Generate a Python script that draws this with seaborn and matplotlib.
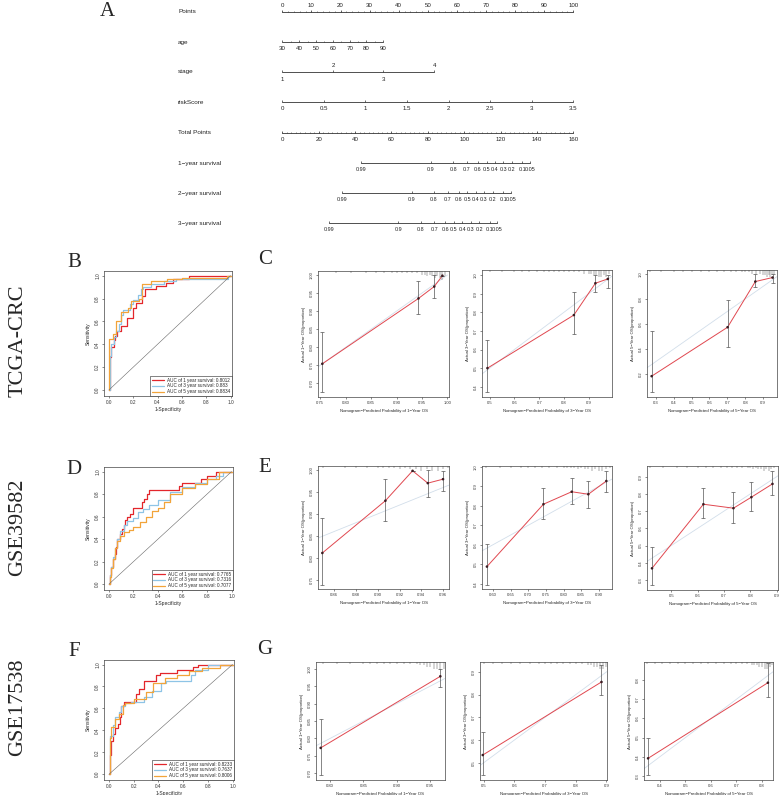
import numpy as np
import pandas as pd
import matplotlib
matplotlib.use('Agg')
import matplotlib.pyplot as plt
import seaborn as sns

sns.set_theme(style='ticks')
plt.rcParams['font.family'] = ['Liberation Sans', 'DejaVu Sans']
SERIF = ['Liberation Serif', 'DejaVu Serif']

W, H = 782, 795

# ---------------- nomogram (A) ----------------
nomo_labels = ['Points', 'age', 'stage', 'riskScore', 'Total Points',
               '1\u2212year survival', '2\u2212year survival', '3\u2212year survival']
points_ticks = list(range(0, 101, 10))
age_ticks = [30, 40, 50, 60, 70, 80, 90]
age_pts_range = (0.0, 34.7)          # points for age 30 and 90
stage_levels = ['1', '2', '3', '4']
stage_points = [0.0, 17.4, 34.7, 52.2]
risk_ticks = [0, 0.5, 1, 1.5, 2, 2.5, 3, 3.5]
total_ticks = list(range(0, 161, 20))
surv_labels = ['0.99', '0.9', '0.8', '0.7', '0.6', '0.5', '0.4', '0.3', '0.2', '0.1', '0.05']
surv1_total = [43.4, 81.7, 93.9, 101.5, 107.4, 112.3, 116.9, 121.4, 126.1, 131.9, 136.2]
surv2_total = [33.0, 71.2, 83.4, 91.0, 96.9, 101.8, 106.4, 110.8, 115.6, 121.4, 125.6]
surv3_total = [25.5, 63.8, 76.0, 83.6, 89.5, 94.4, 99.0, 103.5, 108.2, 114.0, 118.3]

# ---------------- ROC curves (B, D, F) ----------------
tcga_1y_fpr = [0.0, 0.01, 0.02, 0.04, 0.05, 0.07, 0.10, 0.14, 0.15, 0.20, 0.22, 0.27, 0.30, 0.39, 0.47, 0.53, 0.66, 1.0]
tcga_1y_tpr = [0.0, 0.0, 0.29, 0.38, 0.44, 0.47, 0.52, 0.56, 0.56, 0.63, 0.72, 0.76, 0.82, 0.88, 0.91, 0.94, 0.97, 1.0]
tcga_3y_fpr = [0.0, 0.01, 0.02, 0.04, 0.06, 0.08, 0.10, 0.12, 0.17, 0.20, 0.24, 0.26, 0.28, 0.35, 0.45, 0.55, 0.98, 1.0]
tcga_3y_tpr = [0.0, 0.0, 0.30, 0.40, 0.46, 0.52, 0.58, 0.66, 0.70, 0.75, 0.79, 0.83, 0.88, 0.90, 0.93, 0.95, 0.97, 1.0]
tcga_5y_fpr = [0.0, 0.005, 0.03, 0.06, 0.10, 0.16, 0.18, 0.25, 0.27, 0.35, 0.48, 0.60, 0.97, 1.0]
tcga_5y_tpr = [0.0, 0.0, 0.45, 0.49, 0.60, 0.68, 0.72, 0.78, 0.80, 0.93, 0.95, 0.97, 0.98, 1.0]
tcga_auc = ['0.8012', '0.883', '0.8834']

gse39_1y_fpr = [0, 0.005, 0.015, 0.03, 0.05, 0.06, 0.07, 0.09, 0.11, 0.12, 0.13, 0.15, 0.17, 0.20, 0.27, 0.29, 0.31, 0.33, 0.57, 0.60, 0.75, 0.80, 0.87, 1.0]
gse39_1y_tpr = [0, 0, 0.08, 0.15, 0.22, 0.27, 0.33, 0.40, 0.45, 0.49, 0.53, 0.57, 0.60, 0.62, 0.68, 0.73, 0.76, 0.80, 0.84, 0.87, 0.90, 0.93, 0.96, 1.0]
gse39_3y_fpr = [0, 0.005, 0.015, 0.03, 0.05, 0.07, 0.09, 0.12, 0.15, 0.20, 0.24, 0.28, 0.33, 0.40, 0.50, 0.60, 0.70, 0.80, 0.87, 0.93, 1.0]
gse39_3y_tpr = [0, 0, 0.08, 0.15, 0.24, 0.32, 0.40, 0.47, 0.53, 0.56, 0.59, 0.64, 0.67, 0.70, 0.75, 0.82, 0.86, 0.90, 0.93, 0.96, 1.0]
gse39_5y_fpr = [0, 0.005, 0.015, 0.03, 0.05, 0.07, 0.09, 0.12, 0.16, 0.20, 0.25, 0.30, 0.35, 0.40, 0.45, 0.50, 0.60, 0.70, 0.80, 0.90, 1.0]
gse39_5y_tpr = [0, 0, 0.06, 0.14, 0.22, 0.32, 0.38, 0.43, 0.46, 0.48, 0.51, 0.55, 0.60, 0.65, 0.68, 0.73, 0.80, 0.85, 0.89, 0.93, 1.0]
gse39_auc = ['0.7765', '0.7316', '0.7077']

gse17_1y_fpr = [0, 0.005, 0.01, 0.02, 0.03, 0.05, 0.07, 0.09, 0.10, 0.12, 0.16, 0.22, 0.24, 0.28, 0.30, 0.38, 0.41, 0.55, 0.68, 0.72, 1.0]
gse17_1y_tpr = [0, 0, 0.10, 0.18, 0.30, 0.37, 0.42, 0.46, 0.52, 0.62, 0.66, 0.66, 0.73, 0.78, 0.85, 0.85, 0.90, 0.92, 0.95, 0.98, 1.0]
gse17_3y_fpr = [0, 0.005, 0.01, 0.03, 0.05, 0.08, 0.10, 0.13, 0.18, 0.28, 0.35, 0.42, 0.46, 0.60, 0.66, 0.70, 0.80, 1.0]
gse17_3y_tpr = [0, 0, 0.20, 0.35, 0.45, 0.52, 0.57, 0.62, 0.65, 0.66, 0.70, 0.76, 0.83, 0.85, 0.85, 0.90, 0.95, 1.0]
gse17_5y_fpr = [0, 0.005, 0.01, 0.02, 0.05, 0.08, 0.11, 0.13, 0.20, 0.30, 0.36, 0.45, 0.55, 0.65, 0.75, 0.90, 1.0]
gse17_5y_tpr = [0, 0, 0.18, 0.33, 0.43, 0.50, 0.55, 0.63, 0.65, 0.69, 0.75, 0.83, 0.88, 0.90, 0.94, 0.97, 1.0]
gse17_auc = ['0.8233', '0.7637', '0.8006']

roc_years = ['1', '3', '5']
roc_colors = ['#e3262b', '#8ec4e6', '#f2a43a']

# ---------------- calibration (C, E, G) ----------------
c1_pred = [0.754, 0.943, 0.974, 0.990]; c1_obs = [0.754, 0.935, 0.968, 0.998]
c1_lo = [0.675, 0.891, 0.935, 0.998];   c1_hi = [0.841, 0.984, 1.0, 0.998]
c2_pred = [0.491, 0.840, 0.927, 0.977]; c2_obs = [0.500, 0.785, 0.956, 0.979]
c2_lo = [0.373, 0.683, 0.907, 0.932];   c2_hi = [0.651, 0.907, 1.0, 1.0]
c3_pred = [0.277, 0.701, 0.856, 0.952]; c3_obs = [0.184, 0.574, 0.938, 0.970]
c3_lo = [0.058, 0.418, 0.898, 0.926];   c3_hi = [0.544, 0.792, 0.998, 1.0]

e1_pred = [0.849, 0.907, 0.932, 0.946, 0.960]; e1_obs = [0.811, 0.930, 0.998, 0.970, 0.979]
e1_lo = [0.737, 0.884, 0.998, 0.938, 0.953];   e1_hi = [0.890, 0.979, 0.998, 1.0, 0.998]
e2_pred = [0.583, 0.743, 0.823, 0.870, 0.921]; e2_obs = [0.488, 0.808, 0.872, 0.859, 0.927]
e2_lo = [0.391, 0.731, 0.808, 0.787, 0.872];   e2_hi = [0.603, 0.890, 0.941, 0.927, 0.978]
e3_pred = [0.427, 0.622, 0.736, 0.804, 0.884]; e3_obs = [0.368, 0.740, 0.717, 0.781, 0.858]
e3_lo = [0.271, 0.659, 0.630, 0.703, 0.794];   e3_hi = [0.490, 0.833, 0.813, 0.872, 0.934]

g1_pred = [0.786, 0.965]; g1_obs = [0.773, 0.978]; g1_lo = [0.695, 0.947]; g1_hi = [0.857, 1.0]
g2_pred = [0.497, 0.884]; g2_obs = [0.534, 0.856]; g2_lo = [0.446, 0.797]; g2_hi = [0.637, 0.930]
g3_pred = [0.354, 0.823]; g3_obs = [0.392, 0.786]; g3_lo = [0.305, 0.710]; g3_hi = [0.499, 0.890]

# rug of predicted risks along the top edge (position, count)
c1_rug = [0.78, 0.81, 0.84, 0.86, 0.875, 0.89, 0.90, 0.91, 0.92, 0.93, 0.94, 0.95, 0.955, 0.96, 0.965, 0.97, 0.975, 0.98, 0.985, 0.99, 0.995]
c1_cnt = [1, 1, 1, 1, 1, 1, 1, 1, 1, 1, 1, 2, 2, 3, 2, 3, 4, 3, 4, 5, 3]
c2_rug = [0.50, 0.55, 0.60, 0.63, 0.66, 0.69, 0.72, 0.74, 0.76, 0.78, 0.80, 0.82, 0.84, 0.86, 0.88, 0.90, 0.91, 0.92, 0.93, 0.94, 0.95, 0.96, 0.97, 0.98]
c2_cnt = [1, 1, 1, 1, 1, 1, 1, 1, 1, 1, 1, 1, 1, 1, 2, 2, 2, 3, 3, 4, 4, 3, 4, 2]
c3_rug = [0.27, 0.33, 0.40, 0.45, 0.50, 0.55, 0.60, 0.64, 0.68, 0.72, 0.75, 0.78, 0.80, 0.82, 0.84, 0.86, 0.88, 0.90, 0.91, 0.92, 0.93, 0.94, 0.95, 0.96]
c3_cnt = [1, 1, 1, 1, 1, 1, 1, 1, 1, 1, 1, 1, 1, 1, 2, 2, 2, 3, 3, 4, 3, 4, 3, 2]
e1_rug = [0.85, 0.87, 0.88, 0.89, 0.90, 0.905, 0.91, 0.915, 0.92, 0.925, 0.93, 0.935, 0.94, 0.945, 0.95, 0.955, 0.96, 0.965]
e1_cnt = [1, 1, 1, 1, 1, 1, 1, 1, 2, 1, 2, 2, 3, 2, 3, 3, 2, 1]
e2_rug = [0.58, 0.62, 0.65, 0.68, 0.70, 0.72, 0.74, 0.76, 0.78, 0.80, 0.81, 0.82, 0.83, 0.84, 0.85, 0.86, 0.87, 0.88, 0.89, 0.90, 0.91, 0.92, 0.93]
e2_cnt = [1, 1, 1, 1, 1, 1, 1, 1, 1, 1, 1, 1, 1, 2, 1, 2, 2, 3, 2, 3, 3, 2, 1]
e3_rug = [0.42, 0.47, 0.52, 0.56, 0.60, 0.63, 0.66, 0.69, 0.71, 0.73, 0.75, 0.77, 0.79, 0.80, 0.81, 0.82, 0.83, 0.84, 0.85, 0.86, 0.87, 0.88, 0.89]
e3_cnt = [1, 1, 1, 1, 1, 1, 1, 1, 1, 1, 1, 1, 1, 1, 2, 1, 2, 2, 3, 2, 3, 2, 1]
g1_rug = [0.79, 0.81, 0.83, 0.85, 0.86, 0.87, 0.88, 0.89, 0.90, 0.91, 0.92, 0.93, 0.935, 0.94, 0.945, 0.95, 0.955, 0.96, 0.965, 0.97]
g1_cnt = [1, 1, 1, 1, 1, 1, 1, 1, 1, 1, 1, 1, 2, 2, 3, 3, 4, 4, 5, 4]
g2_rug = [0.50, 0.53, 0.56, 0.59, 0.62, 0.65, 0.68, 0.70, 0.72, 0.74, 0.76, 0.78, 0.80, 0.82, 0.84, 0.85, 0.86, 0.87, 0.88, 0.89, 0.90]
g2_cnt = [1, 1, 1, 1, 1, 1, 1, 1, 1, 1, 1, 1, 1, 1, 2, 2, 3, 3, 4, 4, 3]
g3_rug = [0.35, 0.38, 0.41, 0.44, 0.47, 0.50, 0.53, 0.56, 0.59, 0.62, 0.65, 0.68, 0.70, 0.72, 0.74, 0.76, 0.77, 0.78, 0.79, 0.80, 0.81, 0.82, 0.83, 0.84]
g3_cnt = [1, 1, 1, 1, 1, 1, 1, 1, 1, 1, 1, 1, 1, 1, 1, 2, 2, 2, 3, 3, 4, 4, 3, 2]


def px_axes(fig, l, t, r, b):
    return fig.add_axes([l / W, 1 - b / H, (r - l) / W, (b - t) / H])


fig = plt.figure(figsize=(W / 100, H / 100), dpi=100)
fig.patch.set_facecolor('white')

# ----- A: nomogram -----
ax = px_axes(fig, 170, 0, 600, 235)
ax.set_xlim(-(282.3 - 170) / 2.91, 100 + (600 - 573.3) / 2.91)
ax.set_ylim(235, 0)
ax.axis('off')
row_y = [11.7, 42.3, 71.7, 102.3, 132.7, 163.3, 193.3, 223.3]
lc = '#333333'
tfs = 4.4


def scale(y, pos, labels, minor=(), side='below', fs=tfs):
    ax.plot([min(pos), max(pos)], [y, y], color=lc, lw=0.6)
    ax.vlines(pos, y - 2.2, y, color=lc, lw=0.5)
    if len(minor):
        ax.vlines(minor, y - 1.2, y, color=lc, lw=0.4)
    dy = -6.3 if side == 'above' else 6.6
    for p, lab in zip(pos, labels):
        ax.text(p, y + dy, lab, ha='center', va='center', fontsize=fs, color='#222')


for y, lab in zip(row_y, nomo_labels):
    ax.text(-35.8, y, lab, ha='left', va='center', fontsize=4.6, color='#222')

scale(row_y[0], points_ticks, [str(v) for v in points_ticks],
      minor=[v for v in range(0, 101, 2)], side='above')
a0, a1 = age_pts_range
age_pos = [a0 + (a - 30) / 60 * (a1 - a0) for a in age_ticks]
scale(row_y[1], age_pos, [str(v) for v in age_ticks],
      minor=[a0 + (a - 30) / 60 * (a1 - a0) for a in range(35, 90, 10)])
# stage: 2 and 4 above, 1 and 3 below
yy = row_y[2]
ax.plot([0, max(stage_points)], [yy, yy], color=lc, lw=0.6)
ax.vlines(stage_points, yy - 2.2, yy, color=lc, lw=0.5)
for i, (p, lab) in enumerate(zip(stage_points, stage_levels)):
    ax.text(p, yy + (-6.0 if i % 2 else 7.4), lab, ha='center', va='center', fontsize=tfs, color='#222')
scale(row_y[3], [r / 3.5 * 100 for r in risk_ticks], [f'{r:g}' for r in risk_ticks])
scale(row_y[4], [t / 160 * 100 for t in total_ticks], [str(t) for t in total_ticks],
      minor=[t / 160 * 100 for t in np.arange(0, 160.1, 2.5)])
for y, tot in zip(row_y[5:], [surv1_total, surv2_total, surv3_total]):
    scale(y, [t / 160 * 100 for t in tot], surv_labels, fs=3.9)

fig.text(100 / W, 1 - 12 / H, 'A', fontsize=15, family=SERIF, ha='left', va='center')

# ----- ROC panels -----
roc_sets = [
    ((104, 271, 232, 396), [(tcga_1y_fpr, tcga_1y_tpr), (tcga_3y_fpr, tcga_3y_tpr), (tcga_5y_fpr, tcga_5y_tpr)], tcga_auc),
    ((104, 467, 233, 590), [(gse39_1y_fpr, gse39_1y_tpr), (gse39_3y_fpr, gse39_3y_tpr), (gse39_5y_fpr, gse39_5y_tpr)], gse39_auc),
    ((104, 660, 234, 780), [(gse17_1y_fpr, gse17_1y_tpr), (gse17_3y_fpr, gse17_3y_tpr), (gse17_5y_fpr, gse17_5y_tpr)], gse17_auc),
]


def style_box(ax, fs):
    for s in ax.spines.values():
        s.set_linewidth(0.5)
        s.set_color('#444')
    ax.tick_params(labelsize=fs, length=1.6, width=0.4, pad=1.2, colors='#333')
    for t in ax.get_yticklabels():
        t.set_rotation(90)
        t.set_va('center')


for rect, curves, aucs in roc_sets:
    ax = px_axes(fig, *rect)
    for (fpr, tpr), yr, col, auc in zip(curves, roc_years, roc_colors, aucs):
        df = pd.DataFrame({'fpr': fpr, 'tpr': tpr})
        sns.lineplot(data=df, x='fpr', y='tpr', ax=ax, sort=False, estimator=None,
                     drawstyle='steps-pre', color=col, lw=0.9,
                     label=f'AUC of {yr} year survival: {auc}')
    ax.plot([0, 1], [0, 1], color='#666', lw=0.4)
    ax.set_xlim(-0.04, 1.012)
    ax.set_ylim(-0.052, 1.041)
    ticks = [0, 0.2, 0.4, 0.6, 0.8, 1.0]
    ax.set_xticks(ticks)
    ax.set_yticks(ticks)
    ax.set_xticklabels([f'{t:.1f}' for t in ticks])
    ax.set_yticklabels([f'{t:.1f}' for t in ticks])
    ax.set_xlabel('1-Specificity', fontsize=3.6, labelpad=1.5)
    ax.set_ylabel('Sensitivity', fontsize=3.6, labelpad=3)
    style_box(ax, 3.4)
    leg = ax.legend(loc='lower right', fontsize=3.3, frameon=True, fancybox=False,
                    edgecolor='#222', framealpha=1, borderpad=0.4, labelspacing=0.15,
                    handlelength=2.6, handletextpad=0.6, borderaxespad=0.0)
    leg.get_frame().set_linewidth(0.4)

# ----- calibration panels -----
cal_sets = [
    ((318, 271, 449, 397), '1', c1_pred, c1_obs, c1_lo, c1_hi, c1_rug, c1_cnt,
     (0.7455, 1.003), (0.662, 1.011), np.arange(0.75, 1.001, 0.05), np.arange(0.70, 1.001, 0.05), 2, 2),
    ((482, 270, 612, 397), '3', c2_pred, c2_obs, c2_lo, c2_hi, c2_rug, c2_cnt,
     (0.469, 0.994), (0.345, 1.027), np.arange(0.5, 0.901, 0.1), np.arange(0.4, 1.001, 0.1), 1, 1),
    ((647, 270, 777, 397), '5', c3_pred, c3_obs, c3_lo, c3_hi, c3_rug, c3_cnt,
     (0.251, 0.977), (0.018, 1.03), np.arange(0.3, 0.901, 0.1), np.arange(0.2, 1.001, 0.2), 1, 1),
    ((318, 466, 449, 589), '1', e1_pred, e1_obs, e1_lo, e1_hi, e1_rug, e1_cnt,
     (0.845, 0.9655), (0.729, 1.009), np.arange(0.86, 0.961, 0.02), np.arange(0.75, 1.001, 0.05), 2, 2),
    ((482, 466, 612, 589), '3', e2_pred, e2_obs, e2_lo, e2_hi, e2_rug, e2_cnt,
     (0.569, 0.937), (0.373, 1.004), np.arange(0.60, 0.901, 0.05), np.arange(0.4, 1.001, 0.1), 2, 1),
    ((647, 466, 778, 590), '5', e3_pred, e3_obs, e3_lo, e3_hi, e3_rug, e3_cnt,
     (0.408, 0.905), (0.242, 0.962), np.arange(0.5, 0.901, 0.1), np.arange(0.3, 0.901, 0.1), 1, 1),
    ((316, 662, 445, 780), '1', g1_pred, g1_obs, g1_lo, g1_hi, g1_rug, g1_cnt,
     (0.779, 0.972), (0.681, 1.019), np.arange(0.80, 0.951, 0.05), np.arange(0.70, 1.001, 0.05), 2, 2),
    ((480, 662, 607, 780), '3', g2_pred, g2_obs, g2_lo, g2_hi, g2_rug, g2_cnt,
     (0.488, 0.902), (0.424, 0.944), np.arange(0.5, 0.901, 0.1), np.arange(0.5, 0.901, 0.1), 1, 1),
    ((644, 662, 773, 780), '5', g3_pred, g3_obs, g3_lo, g3_hi, g3_rug, g3_cnt,
     (0.338, 0.843), (0.279, 0.894), np.arange(0.4, 0.801, 0.1), np.arange(0.3, 0.801, 0.1), 1, 1),
]

for (rect, yr, pred, obs, lo, hi, rug, cnt, xl, yl, xt, yt, dx, dy) in cal_sets:
    ax = px_axes(fig, *rect)
    ax.plot([0, 1], [0, 1], color='#d2deea', lw=0.6)
    df = pd.DataFrame({'pred': pred, 'obs': obs})
    sns.lineplot(data=df, x='pred', y='obs', ax=ax, sort=False, estimator=None,
                 color='#e0474f', lw=0.7, legend=False)
    ax.errorbar(pred, obs, yerr=[np.array(obs) - np.array(lo), np.array(hi) - np.array(obs)],
                fmt='none', ecolor='#555', elinewidth=0.5, capsize=1.1, capthick=0.5)
    sns.scatterplot(data=df, x='pred', y='obs', ax=ax, color='#3a1c22', s=3.5,
                    edgecolor='none', legend=False, zorder=5)
    ax.vlines(rug, 1 - 0.014 * np.array(cnt), 1, transform=ax.get_xaxis_transform(),
              color='#555', lw=0.35)
    ax.set_xlim(*xl)
    ax.set_ylim(*yl)
    ax.set_xticks(xt)
    ax.set_yticks(yt)
    ax.set_xticklabels([f'{v:.{dx}f}' for v in xt])
    ax.set_yticklabels([f'{v:.{dy}f}' for v in yt])
    ax.set_xlabel(f'Nomogram\u2212Predicted Probability of {yr}\u2212Year OS', fontsize=3.1, labelpad=3)
    ax.set_ylabel(f'Actual {yr}\u2212Year OS(proportion)', fontsize=3.1, labelpad=3)
    style_box(ax, 3.0)

# ----- panel letters and cohort labels -----
for lab, x, y in [('B', 74, 263), ('C', 265, 260), ('D', 74, 470), ('E', 265, 468),
                  ('F', 74, 652), ('G', 265, 650)]:
    fig.text(x / W, 1 - y / H, lab, fontsize=15, family=SERIF, ha='center', va='center')
for lab, y in [('TCGA-CRC', 341), ('GSE39582', 527), ('GSE17538', 707)]:
    fig.text(18 / W, 1 - y / H, lab, fontsize=16, family=SERIF, rotation=90,
             ha='center', va='center')

fig.savefig('out.png', dpi=100, facecolor='white')
